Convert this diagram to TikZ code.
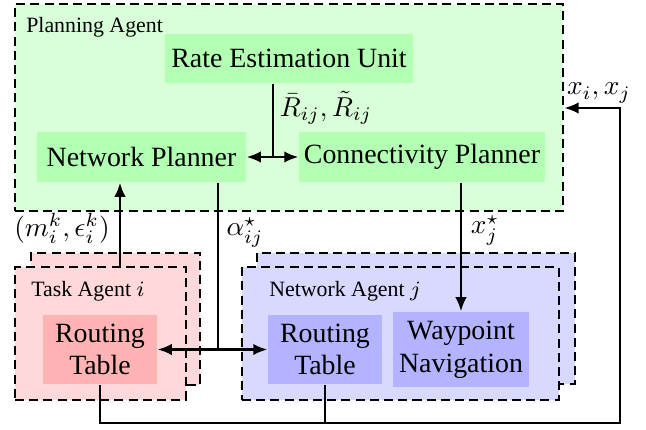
\documentclass[tikz,border=0pt]{standalone}
\usepackage{fontspec}
\setmainfont{Liberation Serif}
\usetikzlibrary{arrows.meta}
\def\PX{0.366pt}
\begin{document}
\begin{tikzpicture}[x=0.366pt,y=-0.366pt,
  agentbox/.style={draw, line width=0.95pt, dash pattern=on 3.3pt off 1.9pt, inner sep=0pt, minimum width={#1}},
  unitbox/.style={inner sep=0pt, align=center, font=\fontsize{10.2}{12}\selectfont},
  lbl/.style={inner sep=1pt, font=\fontsize{8}{9.5}\selectfont},
  conn/.style={line width=0.95pt},
  arr/.style={line width=0.95pt, -{Latex[length=5.2pt,width=4.2pt]}},
  darr/.style={line width=0.95pt, {Latex[length=5.2pt,width=4.2pt]}-{Latex[length=5.2pt,width=4.2pt]}}
]
\useasboundingbox (0,0) rectangle (646,430);
\definecolor{plangreen}{RGB}{216,255,216}
\definecolor{unitgreen}{RGB}{179,255,179}
\definecolor{taskpink}{RGB}{255,217,217}
\definecolor{taskred}{RGB}{255,179,179}
\definecolor{netblue}{RGB}{217,217,255}
\definecolor{netdblue}{RGB}{179,179,255}

% Planning agent
\node[agentbox={548*\PX}, fill=plangreen, minimum height={207*\PX}] (plan) at (289,107.5) {};
\node[lbl, anchor=west] (planlbl) at (23,27) {Planning Agent};
\node[unitbox, fill=unitgreen, minimum width={248*\PX}, minimum height={49*\PX}] (rate) at (289,58.5) {Rate Estimation Unit};
\node[unitbox, fill=unitgreen, minimum width={209*\PX}, minimum height={50*\PX}] (np) at (141.5,157) {Network Planner};
\node[unitbox, fill=unitgreen, minimum width={246*\PX}, minimum height={50*\PX}] (cp) at (422,157) {Connectivity Planner};

% Task agent
\node[agentbox={169*\PX}, fill=taskpink, minimum height={132*\PX}] (taskback) at (115.5,319) {};
\node[agentbox={171*\PX}, fill=taskpink, minimum height={133*\PX}] (taskfront) at (100.5,333.5) {};
\node[lbl, anchor=west] (tasklbl) at (28,291) {Task Agent $i$};
\node[unitbox, fill=taskred, minimum width={114*\PX}, minimum height={69*\PX}] (trt) at (100,349.5) {Routing\\Table};

% Network agent
\node[agentbox={318*\PX}, fill=netblue, minimum height={131*\PX}] (netback) at (416,318.5) {};
\node[agentbox={317*\PX}, fill=netblue, minimum height={133*\PX}] (netfront) at (400.5,333.5) {};
\node[lbl, anchor=west] (netlbl) at (266,291) {Network Agent $j$};
\node[unitbox, fill=netdblue, minimum width={114*\PX}, minimum height={69*\PX}] (nrt) at (325,349.5) {Routing\\Table};
\node[unitbox, fill=netdblue, minimum width={136*\PX}, minimum height={75*\PX}] (wp) at (461,349.5) {Waypoint\\Navigation};

% Coordinates
\coordinate (j) at (273,157);
\coordinate (a1) at (120,267);
\coordinate (a2) at (218,349.5);
\coordinate (bot) at (620,423);
\coordinate (top) at (620,108);

% Connectors
\draw[conn] (j |- rate.south) -- (j);
\draw[darr] (np.east) -- (cp.west);
\draw[arr] (a1) -- (a1 |- np.south);
\draw[conn] (a2 |- np.south) -- (a2);
\draw[darr] (trt.east) -- (nrt.west);
\draw[arr] (cp.south -| wp.north) -- (wp.north);
\draw[arr] (trt.south) -- (trt.south |- bot) -- (bot) -- (top) -- (top -| plan.east);
\draw[conn] (nrt.south) -- (nrt.south |- bot);

% Labels
\node[inner sep=0pt] (rlbl) at (326,108) {$\bar{R}_{ij},\tilde{R}_{ij}$};
\node[inner sep=0pt] (mlbl) at (62,228) {$(m_i^k,\epsilon_i^k)$};
\node[inner sep=0pt] (alpha) at (245,232) {$\alpha_{ij}^\star$};
\node[inner sep=0pt] (xjs) at (485,230) {$x_j^\star$};
\node[inner sep=0pt] (xixj) at (599,93) {$x_i,x_j$};
\end{tikzpicture}
\end{document}
